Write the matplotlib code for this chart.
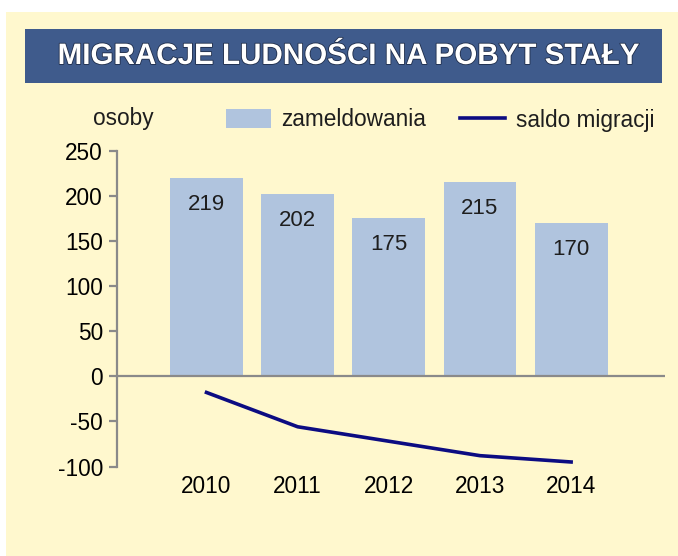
import matplotlib
matplotlib.use("Agg")
import matplotlib.pyplot as plt
from matplotlib.patches import Rectangle
import matplotlib.patheffects as pe
import numpy as np

plt.rcParams.update({
    "font.family": ["Liberation Sans", "DejaVu Sans"],
    "font.size": 16.3,
    "text.color": "#1e1e1e",
    "axes.unicode_minus": False,
})

# ---- data ----
years = ["2010", "2011", "2012", "2013", "2014"]
zameldowania = [219, 202, 175, 215, 170]
saldo = [-18, -56, -72, -88, -95]
yticks = [-100, -50, 0, 50, 100, 150, 200, 250]

C_BG = "#FFF8CE"
C_BANNER = "#3F5B8C"
C_BAR = "#B0C4DE"
C_LINE = "#0C0C82"
C_AXIS = "#8A8A8A"

fig = plt.figure(figsize=(6.78, 5.56), dpi=100, facecolor="white")

# yellow panel + title banner
fig.patches.append(Rectangle((6/678, 0), 1, 1 - 12/556, transform=fig.transFigure,
                             facecolor=C_BG, edgecolor="none", zorder=0))
fig.patches.append(Rectangle((25/678, 1 - 83/556), 637/678, 54/556, transform=fig.transFigure,
                             facecolor=C_BANNER, edgecolor="none", zorder=1))
fig.text(349/678, 1 - 56/556, "MIGRACJE LUDNOŚCI NA POBYT STAŁY", color="white",
         fontsize=21.3, fontweight="bold", ha="center", va="center", zorder=3,
         path_effects=[pe.withStroke(linewidth=1.2, foreground="#1f2d4a")])

ax = fig.add_axes([117/678, 1 - 466.5/556, 548/678, 316/556])
ax.set_zorder(2)
ax.set_facecolor("none")
x = np.arange(len(years))

bars = ax.bar(x, zameldowania, 0.8, color=C_BAR, edgecolor="none", zorder=2)
for xi, v in zip(x, zameldowania):
    ax.annotate(str(v), (xi, v), xytext=(0, -19), textcoords="offset points",
                ha="center", va="center", fontsize=16)
ln, = ax.plot(x, saldo, color=C_LINE, linewidth=2.6, zorder=3)

ax.axhline(0, color=C_AXIS, linewidth=1.6, zorder=2)
ax.set_xlim(-0.982, 5.03)
ax.set_ylim(-100, 250)
ax.set_yticks(yticks)
ax.set_xticks(x)
ax.set_xticklabels(years)
for s in ["top", "right", "bottom"]:
    ax.spines[s].set_visible(False)
ax.spines["left"].set_color(C_AXIS)
ax.spines["left"].set_linewidth(1.6)
ax.tick_params(axis="y", length=6, width=1.6, color=C_AXIS, pad=4, labelsize=16.3)
ax.tick_params(axis="x", length=0, pad=6, labelsize=16.3)

fig.text(123/678, 1 - 118/556, "osoby", ha="center", va="center", fontsize=16.3, zorder=3)

ax.legend([bars, ln], ["zameldowania", "saldo migracji"], ncol=2, frameon=False,
          loc="center", bbox_to_anchor=(440/678, 1 - 120/556),
          bbox_transform=fig.transFigure, fontsize=16.3,
          handlelength=2.0, handleheight=0.9, handletextpad=0.45, columnspacing=1.5)

fig.savefig("out.png", dpi=100, facecolor="white")
